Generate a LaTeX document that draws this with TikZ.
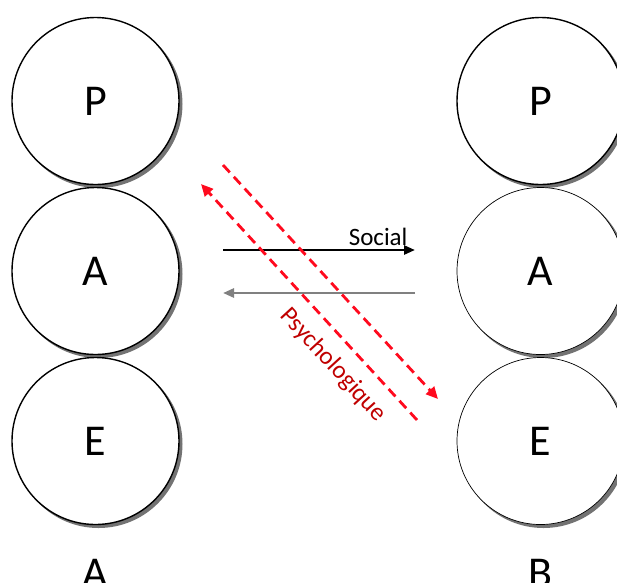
\documentclass[tikz,border=0pt]{standalone}
\usepackage{fontspec}
\setmainfont{Carlito}
\usetikzlibrary{arrows.meta}
\definecolor{psyred}{HTML}{FF0A1E}
\definecolor{psytext}{HTML}{C00000}
\tikzset{
  x=1pt,y=-1pt,
  ball/.style={circle,draw=black,line width=1.4pt,fill=white,minimum size=167pt,inner sep=0pt,font=\fontsize{44}{52}\selectfont},
  thinball/.style={ball,line width=0.7pt},
  shade/.style={fill=black!55},
  lbl/.style={font=\fontsize{44}{52}\selectfont},
  soc/.style={line width=2.6pt,-{Triangle[length=11pt,width=9pt]}},
  psy/.style={psyred,line width=2.8pt,dash pattern=on 10pt off 6pt},
  psytip/.style={-{Triangle[length=12pt,width=11pt]}}
}
\begin{document}
\begin{tikzpicture}
\useasboundingbox (0,0) rectangle (617,582);
% shadows
\foreach \x in {95.5,540.5}{
  \foreach \y in {101,271,441}{
    \fill[shade] (\x+3,\y+3) circle (84pt);
  }
}
\node[ball] (lP) at (95.5,101) {P};
\node[ball] (lA) at (95.5,271) {A};
\node[ball] (lE) at (95.5,441) {E};
\node[ball] (rP) at (540.5,101) {P};
\node[thinball] (rA) at (540.5,271) {A};
\node[thinball] (rE) at (540.5,441) {E};
\node[lbl] (labA) at (95.5,573) {A};
\node[lbl] (labB) at (540.5,573) {B};
% social arrows
\coordinate (s1) at (223,250);
\coordinate (s2) at (415,250);
\coordinate (g1) at (415,293);
\coordinate (g2) at (223,293);
\draw[soc,black] (s1) -- (s2);
\draw[soc,black!50] (g1) -- (g2);
\node[font=\fontsize{25}{30}\selectfont,anchor=base east] (soctext) at (411,245) {Social};
% psychological arrows
\coordinate (p1s) at (417,420);
\coordinate (p1e) at (201,184);
\coordinate (p2s) at (223,165);
\coordinate (p2e) at (438,399);
\draw[psy,psytip] (p1s) -- (p1e);
\draw[psy,psytip] (p2s) -- (p2e);
\node[psytext,rotate=-47.5,font=\fontsize{25}{30}\selectfont] (psytxt) at (333,365) {Psychologique};
\end{tikzpicture}
\end{document}
